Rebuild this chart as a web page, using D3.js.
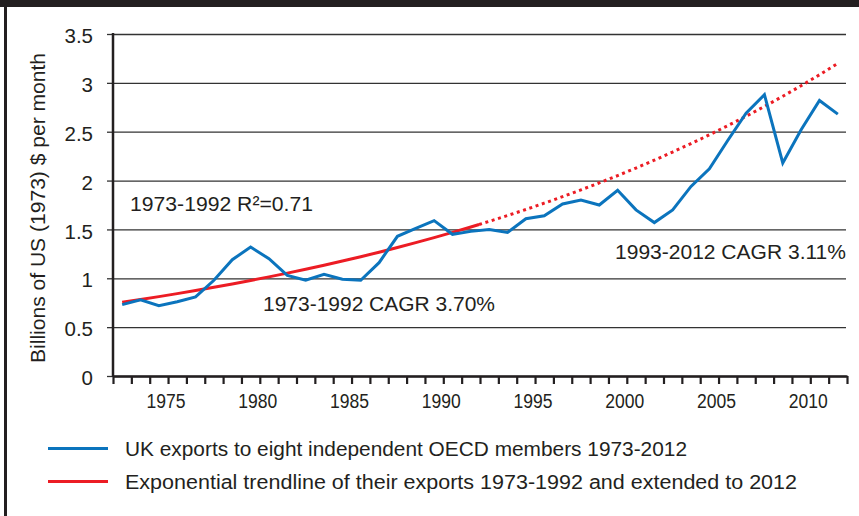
<!DOCTYPE html>
<html lang="en">
  <head>
    <meta charset="utf-8">
    <title>UK exports to OECD members</title>
    <style>
      body { margin: 0; background: #fff; }
      svg text { font-family: "Liberation Sans", Arial, Helvetica, sans-serif; fill: #231f20; }
    </style>
  </head>
  <body>
    <svg class="chart"></svg>
    <script src="https://d3js.org/d3.v7.min.js"></script>
    <script>
      // data
      const years = d3.range(1973, 2013);
      const exports = [0.73, 0.78, 0.72, 0.76, 0.81, 0.98, 1.19, 1.32, 1.20, 1.03,
                       0.98, 1.04, 0.99, 0.98, 1.16, 1.43, 1.51, 1.59, 1.45, 1.48,
                       1.50, 1.47, 1.61, 1.64, 1.76, 1.80, 1.75, 1.90, 1.70, 1.57,
                       1.70, 1.94, 2.12, 2.41, 2.69, 2.88, 2.18, 2.52, 2.82, 2.68];
      const fitYears = [1973, 1992];
      const yTicks = [0, 0.5, 1, 1.5, 2, 2.5, 3, 3.5];
      const xLabels = [1975, 1980, 1985, 1990, 1995, 2000, 2005, 2010];
      const legendItems = ["UK exports to eight independent OECD members 1973-2012",
                           "Exponential trendline of their exports 1973-1992 and extended to 2012"];
      const notes = ["1973-1992 R\u00b2=0.71", "1973-1992 CAGR 3.70%", "1993-2012 CAGR 3.11%"];

      const W = 859, H = 516;
      const dark = "#231f20", blue = "#0b74bd", red = "#ec1c24";

      const svg = d3.select(".chart").attr("width", W).attr("height", H);

      // frame
      svg.append("rect").attr("x", 0).attr("y", 0).attr("width", W).attr("height", 7).style("fill", dark);
      svg.append("rect").attr("x", 4).attr("y", 0).attr("width", 3).attr("height", H).style("fill", dark);

      const x = d3.scaleLinear().domain([1973, 2013]).range([113, 847]);
      const y = d3.scaleLinear().domain([0, 3.5]).range([376, 34]);

      // gridlines
      svg.append("g").attr("transform", "translate(113,0)")
        .call(d3.axisLeft(y).tickValues(yTicks).tickSize(-733).tickFormat(""))
        .call(g => g.select(".domain").remove())
        .call(g => g.selectAll("line").attr("stroke", "#333").attr("stroke-width", 1.3));

      // y axis with labels
      const yAxis = svg.append("g").attr("transform", "translate(113,0)")
        .call(d3.axisLeft(y).tickValues(yTicks).tickSize(6).tickPadding(14).tickFormat(d3.format("")))
        .call(g => g.select(".domain").remove());
      yAxis.selectAll("line").attr("stroke", "#333").attr("stroke-width", 1.3);
      yAxis.selectAll("text").style("font-size", "20.5px").attr("dy", "0.42em").style("fill", dark);
      svg.append("line").attr("x1", 113).attr("x2", 113).attr("y1", 33).attr("y2", 377)
        .attr("stroke", dark).attr("stroke-width", 2.5);

      // x axis: ticks on year boundaries
      const xAxis = svg.append("g").attr("transform", "translate(0,376)")
        .call(d3.axisBottom(x).tickValues(d3.range(1973, 2014)).tickSize(8).tickSizeOuter(0).tickFormat(""));
      xAxis.select(".domain").attr("stroke", dark).attr("stroke-width", 2.5);
      xAxis.selectAll("line").attr("stroke", dark).attr("stroke-width", 2.2);

      svg.append("g").selectAll("text").data(xLabels).enter().append("text")
        .attr("x", d => x(d + 1) - 2)
        .attr("y", 408)
        .attr("text-anchor", "middle")
        .attr("textLength", 39).attr("lengthAdjust", "spacingAndGlyphs")
        .style("font-size", "20.5px")
        .text(d => d);

      // y title
      svg.append("text")
        .attr("transform", "translate(45,208) rotate(-90)")
        .attr("text-anchor", "middle")
        .attr("textLength", 310).attr("lengthAdjust", "spacingAndGlyphs")
        .style("font-size", "20px")
        .text("Billions of US (1973) $ per month");

      // exponential trendline fitted on 1973-1992, like the spreadsheet trendline
      const fitPts = years.map((yr, i) => [yr - 1973, Math.log(exports[i])])
        .filter((p, i) => years[i] >= fitYears[0] && years[i] <= fitYears[1]);
      const mt = d3.mean(fitPts, p => p[0]), ml = d3.mean(fitPts, p => p[1]);
      const b = d3.sum(fitPts, p => (p[0] - mt) * (p[1] - ml)) / d3.sum(fitPts, p => (p[0] - mt) ** 2);
      const a = ml - b * mt;
      const trendAt = yr => ({ year: yr, value: Math.exp(a + b * (yr - 1973)) });
      const split = fitYears[1] + 0.45;
      const solid = years.filter(yr => yr <= fitYears[1]).map(trendAt).concat([trendAt(split)]);
      const dotted = [trendAt(split)].concat(years.filter(yr => yr > fitYears[1]).map(trendAt));

      const line = d3.line().x(d => x(d.year + 0.5)).y(d => y(d.value));

      svg.append("path").datum(solid)
        .attr("d", line).attr("fill", "none")
        .attr("stroke", red).attr("stroke-width", 3);
      svg.append("path").datum(dotted)
        .attr("d", line).attr("fill", "none")
        .attr("stroke", red).attr("stroke-width", 3).attr("stroke-dasharray", "3 3.6");

      svg.append("path")
        .datum(years.map((yr, i) => ({ year: yr, value: exports[i] })))
        .attr("d", line).attr("fill", "none")
        .attr("stroke", blue).attr("stroke-width", 3).attr("stroke-linejoin", "miter");

      // notes
      const notePos = [[130, 211, 183], [263, 311, 232], [615, 259, 231]];
      svg.append("g").selectAll("text").data(notes).enter().append("text")
        .attr("x", (d, i) => notePos[i][0])
        .attr("y", (d, i) => notePos[i][1])
        .attr("textLength", (d, i) => notePos[i][2]).attr("lengthAdjust", "spacingAndGlyphs")
        .style("font-size", "20px")
        .text(d => d);

      // legend
      const legend = svg.append("g").attr("id", "legend");
      legend.selectAll("line").data(legendItems).enter().append("line")
        .attr("x1", 48).attr("x2", 108)
        .attr("y1", (d, i) => 448.5 + i * 33).attr("y2", (d, i) => 448.5 + i * 33)
        .attr("stroke", (d, i) => i === 0 ? blue : red).attr("stroke-width", 3);
      legend.selectAll("text").data(legendItems).enter().append("text")
        .attr("x", 125)
        .attr("y", (d, i) => 455.5 + i * 33)
        .attr("textLength", (d, i) => i === 0 ? 562 : 672).attr("lengthAdjust", "spacingAndGlyphs")
        .style("font-size", "20px")
        .text(d => d);
    </script>
  </body>
</html>
